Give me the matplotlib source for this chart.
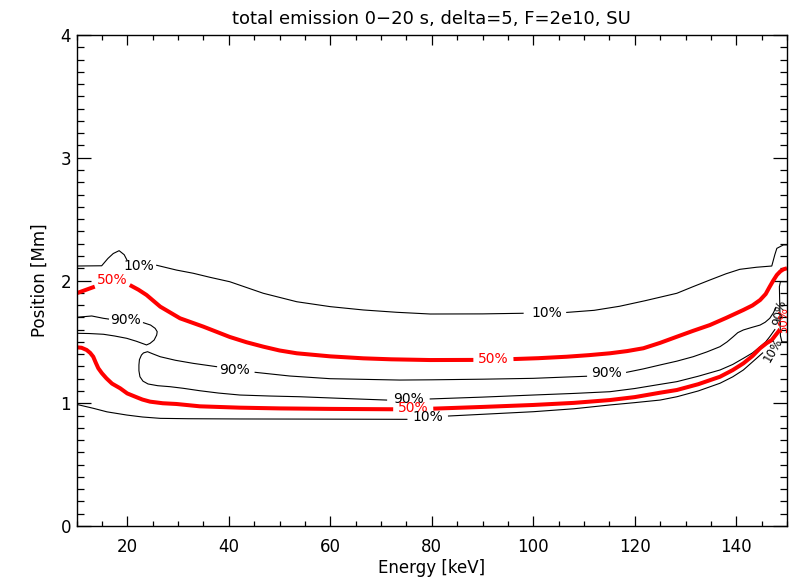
import numpy as np
import matplotlib
matplotlib.use("Agg")
import matplotlib.pyplot as plt
from matplotlib.ticker import MultipleLocator

nan = np.nan

title = "total emission 0\u221220 s, delta=5, F=2e10, SU"
xlabel = "Energy [keV]"
ylabel = "Position [Mm]"
xticks = [20, 40, 60, 80, 100, 120, 140]
yticks = [0, 1, 2, 3, 4]

# 10% contour, upper branch (NaN = gap for the label)
c10_up_x = [10, 14.96, 16.2, 17.25, 18.4, 19.4, 19.9, nan, 25.8, 29.7, 33, 36.3, 40.2, 46.8, 53.4, 60,
            66.5, 73.1, 79.7, 90, 98,
            nan, 106.6, 112, 117, 122, 128.3, 131.5, 134.8, 138, 140.7, 144, 147, 147.6, 148, 149.3, 150]
c10_up_y = [2.118, 2.12, 2.18, 2.22, 2.243, 2.21, 2.17, nan, 2.124, 2.085, 2.059, 2.026, 1.99, 1.896, 1.827, 1.787,
            1.76, 1.741, 1.727, 1.728, 1.733,
            nan, 1.74, 1.757, 1.79, 1.835, 1.896, 1.95, 2.004, 2.055, 2.091, 2.108, 2.118, 2.21, 2.262, 2.29, 2.29]

# 50% contour, upper branch
c50_up_x = [10, 13.6, nan, 20.5, 22.2, 23.8, 26.5, 30.4, 35, 40.2, 43.5, 46.8, 50, 53.4, 60, 66.5, 72, 79.7, 88.2,
            nan, 96.1, 101, 106.6, 111, 115.1, 118.5, 121.7, 125, 128.3, 131.5, 134.8, 138, 141.4, 143.2,
            144.7, 145.8, 146.6, 147.3, 148, 148.7, 149.3, 150]
c50_up_y = [1.896, 1.95, nan, 1.963, 1.925, 1.882, 1.787, 1.692, 1.624, 1.54, 1.497, 1.461, 1.43, 1.407, 1.382,
            1.366, 1.358, 1.352, 1.353,
            nan, 1.36, 1.367, 1.379, 1.392, 1.407, 1.425, 1.448, 1.492, 1.542, 1.59, 1.637, 1.695, 1.76, 1.797,
            1.841, 1.89, 1.95, 2.0, 2.045, 2.075, 2.091, 2.1]

# 90% contour, upper-left closed piece
c90_a_x = [10, 13, 15.3, 16.3, nan, 23.2, 24.6, 25.5, 25.9, 25.8, 25.3, 24.5, 23.8, 21.8, 19.9, 17.5, 15.3, 12.5, 10]
c90_a_y = [1.70, 1.711, 1.692, 1.686, nan, 1.656, 1.637, 1.61, 1.583, 1.556, 1.515, 1.488, 1.475, 1.505, 1.529,
           1.548, 1.562, 1.568, 1.57]

# 90% contour, middle piece
c90_b_x = [147.8, 147.3, 146.6, 145.7, 144.7, 143, 141.4, 140.3, 139.4, 138.2, 136.8, 134.2, 131.5, 128.3, 125,
           121.7, 118.4,
           nan, 110.5, 100, 90, 80, 73.7, 60, 52, 45.2,
           nan, 37.6, 33, 29.5, 26.5, 25, 24, 23.2, 22.8, 22.4, 22.3, 22.3, 22.5, 23.1, 24.1, 26, 28.4, 31, 34.3,
           38, 42.2, 48, 54, 62, 71.1,
           nan, 79.7, 90, 100, 108, 115.1, 120, 125, 128.3, 132.5, 136.8, 139.3, 141.4, 143.2, 144.7, 145.8,
           146.6, 147.6]
c90_b_y = [1.78, 1.735, 1.692, 1.66, 1.637, 1.617, 1.597, 1.575, 1.542, 1.5, 1.461, 1.418, 1.379, 1.343, 1.312,
           1.28, 1.252,
           nan, 1.22, 1.203, 1.196, 1.191, 1.189, 1.2, 1.222, 1.252,
           nan, 1.298, 1.325, 1.35, 1.379, 1.403, 1.42, 1.41, 1.393, 1.355, 1.312, 1.265, 1.216, 1.18, 1.157,
           1.143, 1.135, 1.122, 1.102, 1.083, 1.067, 1.059, 1.053, 1.04, 1.026,
           nan, 1.035, 1.05, 1.067, 1.08, 1.094, 1.12, 1.154, 1.176, 1.22, 1.271, 1.316, 1.366, 1.41, 1.461,
           1.5, 1.542, 1.60]

# 50% contour, lower branch
c50_lo_x = [10, 11, 12, 12.7, 13.3, 13.8, 14.3, 15, 15.9, 17, 18.6, 20, 21.9, 23, 24.5, 27, 29.7, 34.3, 42.2,
            50, 60, 72.4, nan,
            80.3, 90, 100, 108, 115.1, 120, 125, 128.3, 132.5, 136.8, 139.3, 141.4, 143.2, 144.7, 146, 147, 148.6]
c50_lo_y = [1.456, 1.452, 1.434, 1.41, 1.379, 1.33, 1.285, 1.245, 1.203, 1.16, 1.122, 1.08, 1.048, 1.03, 1.013,
            1.0, 0.994, 0.975, 0.964, 0.958, 0.954, 0.951, nan,
            0.956, 0.97, 0.986, 1.003, 1.026, 1.05, 1.086, 1.108, 1.155, 1.216, 1.27, 1.325, 1.385, 1.448,
            1.49, 1.515, 1.60]

# 10% contour, lower branch
c10_lo_x = [10, 13.3, 16, 19.9, 23, 26.5, 32, 42.2, 55, 65, 75.1, nan, 83.3, 90, 100, 108, 115.1, 120, 125,
            128.3, 132.5, 136.8, 139.3, 141.4, 144, 145.2]
c10_lo_y = [0.991, 0.959, 0.93, 0.904, 0.888, 0.877, 0.874, 0.872, 0.871, 0.87, 0.869, nan, 0.896, 0.91, 0.931,
            0.955, 0.986, 1.005, 1.026, 1.053, 1.1, 1.163, 1.215, 1.271, 1.366, 1.41]

# small closed contour at the right edge
c_edge_x = [150, 148.7, 148.5, 148.6, 148.7, 149.0, 150]
c_edge_y = [1.99, 1.99, 1.95, 1.75, 1.55, 1.50, 1.50]

# contour labels
lab_x = [22.3, 102.6, 17.1, 92.1, 19.6, 41.2, 114.5, 75.4, 76.4, 79.3, 147.2, 148.6, 149.4]
lab_y = [2.12, 1.733, 2.0, 1.36, 1.678, 1.271, 1.244, 1.035, 0.959, 0.89, 1.43, 1.735, 1.68]
lab_t = ["10%", "10%", "50%", "50%", "90%", "90%", "90%", "90%", "50%", "10%", "10%", "90%", "50%"]
lab_c = ["k", "k", "red", "red", "k", "k", "k", "k", "red", "k", "k", "k", "red"]
lab_r = [0, 0, 0, 0, 0, 0, 0, 0, 0, 0, 60, 78, 90]

fig = plt.figure(figsize=(7.94, 5.77), dpi=100)
ax = fig.add_axes([76.5 / 794, 1 - 526 / 577, (787 - 76.5) / 794, (526 - 35) / 577])

thin = dict(color="black", lw=0.8)
thick = dict(color="red", lw=2.9, solid_capstyle="butt", solid_joinstyle="round")
ax.plot(c10_up_x, c10_up_y, **thin)
ax.plot(c90_a_x, c90_a_y, **thin)
ax.plot(c90_b_x, c90_b_y, **thin)
ax.plot(c10_lo_x, c10_lo_y, **thin)
ax.plot(c_edge_x, c_edge_y, **thin)
ax.plot(c50_up_x, c50_up_y, **thick)
ax.plot(c50_lo_x, c50_lo_y, **thick)

for x, y, t, c, r in zip(lab_x, lab_y, lab_t, lab_c, lab_r):
    fs = 10 if r == 0 else 8.5
    ax.text(x, y, t, color=c, fontsize=fs, rotation=r, ha="center", va="center",
            rotation_mode="anchor", zorder=5)

ax.set_xlim(10, 150)
ax.set_ylim(0, 4)
ax.set_xticks(xticks)
ax.set_yticks(yticks)
ax.xaxis.set_minor_locator(MultipleLocator(5))
ax.yaxis.set_minor_locator(MultipleLocator(0.1))
ax.tick_params(axis="x", which="major", direction="in", length=7, width=0.9, top=True, pad=9, labelsize=12)
ax.tick_params(axis="x", which="minor", direction="in", length=3.5, width=0.9, top=True)
ax.tick_params(axis="y", which="major", direction="in", length=10, width=0.9, right=True, pad=4, labelsize=12)
ax.tick_params(axis="y", which="minor", direction="in", length=5, width=0.9, right=True)
for s in ax.spines.values():
    s.set_linewidth(1.0)

ax.set_title(title, fontsize=13, pad=8)
ax.set_xlabel(xlabel, fontsize=12, labelpad=2)
ax.set_ylabel(ylabel, fontsize=12, labelpad=8)

fig.savefig("out.png", dpi=100)
